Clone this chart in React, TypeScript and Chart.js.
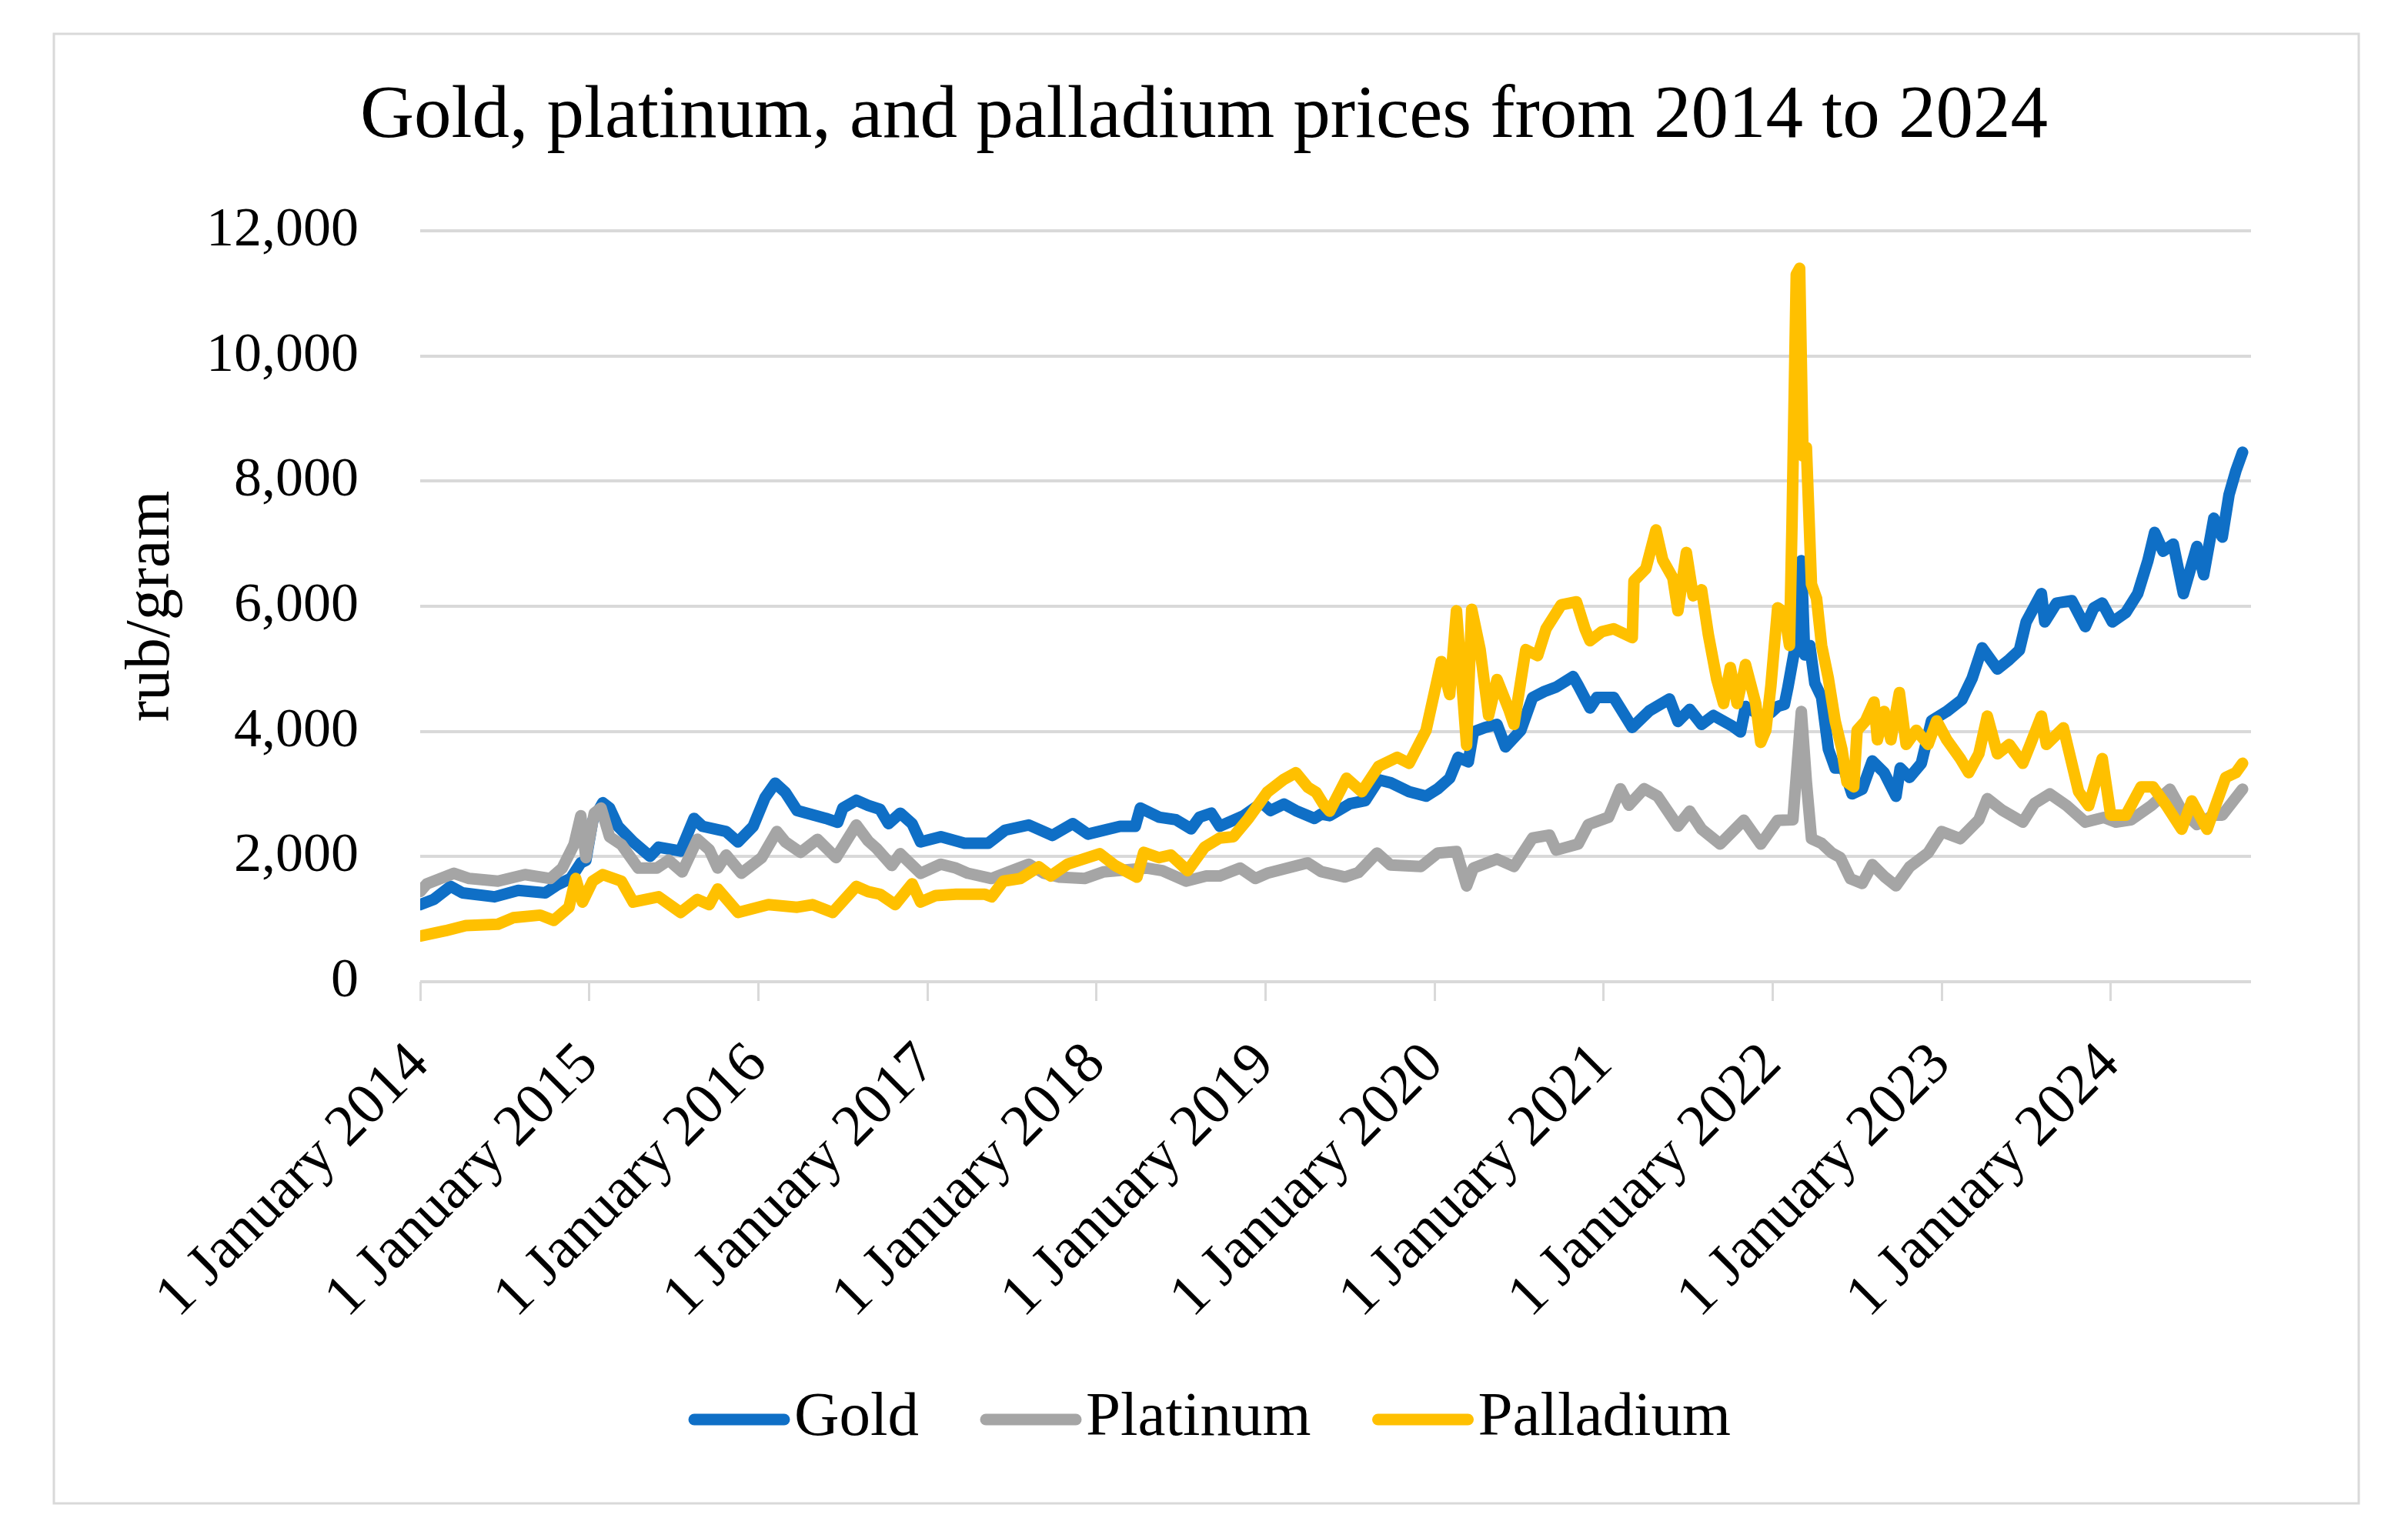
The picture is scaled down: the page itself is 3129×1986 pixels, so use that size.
import React, { useEffect, useRef } from 'react';
import { Chart, registerables } from 'chart.js';

Chart.register(...registerables);

const FONT = '"Liberation Serif", "Times New Roman", serif';
const GOLD_COLOR = '#0F6FC6';
const PLAT_COLOR = '#A5A5A5';
const PALL_COLOR = '#FFC000';

const titleText = 'Gold, platinum, and palladium prices from 2014 to 2024';
const yAxisTitle = 'rub/gram';
const seriesNames = ['Gold', 'Platinum', 'Palladium'];

const xTickValues = [2014, 2015, 2016, 2017, 2018, 2019, 2020, 2021, 2022, 2023, 2024];
const xTickLabels = [
  '1 January 2014', '1 January 2015', '1 January 2016', '1 January 2017',
  '1 January 2018', '1 January 2019', '1 January 2020', '1 January 2021',
  '1 January 2022', '1 January 2023', '1 January 2024',
];
const yTickValues = [0, 2000, 4000, 6000, 8000, 10000, 12000];
const yTickLabels = ['0', '2,000', '4,000', '6,000', '8,000', '10,000', '12,000'];

// time in decimal years
const goldT = [
  2014.00, 2014.08, 2014.18, 2014.25, 2014.44, 2014.58, 2014.74, 2014.81, 2014.89, 2014.95,
  2014.98, 2015.02, 2015.08, 2015.12, 2015.17, 2015.26, 2015.36, 2015.41, 2015.54, 2015.62,
  2015.67, 2015.81, 2015.88, 2015.97, 2016.04, 2016.10, 2016.16, 2016.23, 2016.40, 2016.47,
  2016.50, 2016.58, 2016.65, 2016.72, 2016.77, 2016.84, 2016.91, 2016.96, 2017.08, 2017.22,
  2017.36, 2017.46, 2017.60, 2017.74, 2017.86, 2017.95, 2018.14, 2018.23, 2018.26, 2018.37,
  2018.47, 2018.56, 2018.61, 2018.68, 2018.73, 2018.87, 2018.98, 2019.03, 2019.11, 2019.18,
  2019.29, 2019.33, 2019.38, 2019.50, 2019.59, 2019.67, 2019.74, 2019.85, 2019.95, 2020.02,
  2020.09, 2020.14, 2020.20, 2020.23, 2020.30, 2020.37, 2020.42, 2020.51, 2020.58, 2020.65,
  2020.72, 2020.82, 2020.85, 2020.92, 2020.96, 2021.06, 2021.17, 2021.27, 2021.39, 2021.44,
  2021.51, 2021.58, 2021.65, 2021.76, 2021.81, 2021.84, 2021.93, 2021.99, 2022.03, 2022.07,
  2022.09, 2022.13, 2022.16, 2022.17, 2022.19, 2022.22, 2022.25, 2022.29, 2022.33, 2022.37,
  2022.42, 2022.47, 2022.53, 2022.59, 2022.66, 2022.73, 2022.755, 2022.81, 2022.88, 2022.94,
  2023.03, 2023.12, 2023.18, 2023.24, 2023.33, 2023.40, 2023.46, 2023.50, 2023.59, 2023.61,
  2023.68, 2023.77, 2023.85, 2023.90, 2023.95, 2024.01, 2024.09, 2024.16, 2024.22, 2024.26,
  2024.31, 2024.37, 2024.43, 2024.47, 2024.51, 2024.55, 2024.61, 2024.66, 2024.70, 2024.74,
  2024.78,
];
const goldV = [
  1232, 1315, 1524, 1420, 1357, 1460, 1420, 1545, 1650, 1900,
  1940, 2568, 2860, 2776, 2484, 2234, 2004, 2150, 2088, 2610,
  2484, 2400, 2234, 2484, 2944, 3173, 3027, 2735, 2610, 2547,
  2776, 2900, 2818, 2756, 2526, 2693, 2526, 2234, 2318, 2213,
  2213, 2422, 2505, 2338, 2526, 2359, 2484, 2484, 2776, 2630,
  2589, 2443, 2630, 2693, 2484, 2651, 2860, 2735, 2839, 2735,
  2610, 2678, 2654, 2845, 2893, 3228, 3180, 3036, 2965, 3084,
  3252, 3586, 3514, 3992, 4064, 4112, 3753, 4016, 4542, 4638,
  4709, 4877, 4733, 4375, 4542, 4542, 4064, 4327, 4518, 4160,
  4351, 4112, 4255, 4088, 3992, 4399, 4255, 4300, 4400, 4432,
  4696, 5298, 6428, 6729, 5223, 5374, 4771, 4545, 3717, 3416,
  3416, 3002, 3077, 3529, 3341, 2964, 3416, 3265, 3491, 4169,
  4319, 4508, 4846, 5336, 4997, 5148, 5298, 5750, 6202, 5750,
  6051, 6089, 5675, 5976, 6051, 5750, 5901, 6202, 6729, 7181,
  6880, 6993, 6202, 6578, 6955, 6503, 7407, 7106, 7783, 8160,
  8461,
];

const platT = [
  2014.00, 2014.04, 2014.20, 2014.29, 2014.46, 2014.62, 2014.77, 2014.84, 2014.91, 2014.95,
  2014.98, 2015.03, 2015.07, 2015.12, 2015.19, 2015.29, 2015.40, 2015.47, 2015.55, 2015.64,
  2015.71, 2015.76, 2015.81, 2015.90, 2016.02, 2016.11, 2016.16, 2016.25, 2016.35, 2016.46,
  2016.58, 2016.65, 2016.70, 2016.79, 2016.84, 2016.96, 2017.08, 2017.17, 2017.24, 2017.38,
  2017.48, 2017.60, 2017.69, 2017.78, 2017.93, 2018.04, 2018.21, 2018.30, 2018.39, 2018.53,
  2018.65, 2018.73, 2018.85, 2018.94, 2019.01, 2019.13, 2019.25, 2019.33, 2019.47, 2019.55,
  2019.66, 2019.74, 2019.92, 2020.02, 2020.13, 2020.19, 2020.23, 2020.37, 2020.47, 2020.58,
  2020.68, 2020.72, 2020.85, 2020.91, 2021.03, 2021.10, 2021.15, 2021.24, 2021.32, 2021.44,
  2021.51, 2021.58, 2021.69, 2021.83, 2021.93, 2022.03, 2022.12, 2022.17, 2022.20, 2022.23,
  2022.29, 2022.35, 2022.40, 2022.46, 2022.53, 2022.59, 2022.66, 2022.73, 2022.81, 2022.92,
  2023.00, 2023.11, 2023.22, 2023.27, 2023.36, 2023.48, 2023.55, 2023.64, 2023.74, 2023.85,
  2023.96, 2024.03, 2024.12, 2024.24, 2024.35, 2024.42, 2024.51, 2024.61, 2024.66, 2024.78,
];
const platV = [
  1440, 1566, 1733, 1650, 1608, 1712, 1650, 1816, 2192, 2651,
  1983, 2693, 2776, 2318, 2192, 1816, 1816, 1942, 1754, 2276,
  2109, 1816, 2025, 1733, 1983, 2400, 2234, 2067, 2276, 1983,
  2505, 2250, 2130, 1858, 2046, 1733, 1879, 1816, 1733, 1650,
  1754, 1879, 1733, 1671, 1650, 1754, 1796, 1816, 1775, 1608,
  1691, 1691, 1816, 1650, 1733, 1816, 1900, 1760, 1674, 1746,
  2057, 1865, 1841, 2057, 2080, 1531, 1817, 1961, 1841, 2296,
  2343, 2104, 2200, 2511, 2630, 3084, 2821, 3084, 2965, 2487,
  2726, 2439, 2200, 2582, 2200, 2580, 2587, 4319, 3190, 2286,
  2211, 2060, 1985, 1646, 1571, 1872, 1684, 1533, 1834, 2060,
  2399, 2286, 2587, 2926, 2738, 2550, 2851, 3002, 2813, 2550,
  2625, 2550, 2587, 2813, 3077, 2738, 2512, 2663, 2663, 3077,
];

const pallT = [
  2014.00, 2014.15, 2014.27, 2014.46, 2014.55, 2014.71, 2014.79, 2014.88, 2014.92, 2014.96,
  2015.02, 2015.08, 2015.19, 2015.26, 2015.41, 2015.54, 2015.64, 2015.71, 2015.76, 2015.88,
  2016.06, 2016.23, 2016.32, 2016.44, 2016.58, 2016.65, 2016.72, 2016.81, 2016.91, 2016.96,
  2017.05, 2017.17, 2017.34, 2017.38, 2017.45, 2017.55, 2017.66, 2017.73, 2017.83, 2018.02,
  2018.11, 2018.24, 2018.28, 2018.37, 2018.44, 2018.54, 2018.64, 2018.73, 2018.81, 2018.90,
  2019.01, 2019.11, 2019.18, 2019.25, 2019.30, 2019.34, 2019.38, 2019.48, 2019.57, 2019.67,
  2019.78, 2019.85, 2019.95, 2020.04, 2020.09, 2020.13, 2020.19, 2020.22, 2020.27, 2020.32,
  2020.37, 2020.44, 2020.47, 2020.54, 2020.61, 2020.66, 2020.75, 2020.84, 2020.89, 2020.92,
  2020.99, 2021.06, 2021.17, 2021.18, 2021.25, 2021.31, 2021.35, 2021.41, 2021.44, 2021.49,
  2021.53, 2021.58, 2021.62, 2021.67, 2021.71, 2021.75, 2021.79, 2021.84, 2021.90, 2021.93,
  2021.96, 2021.99, 2022.03, 2022.07, 2022.10, 2022.115, 2022.14, 2022.16, 2022.18, 2022.20,
  2022.23, 2022.26, 2022.29, 2022.33, 2022.37, 2022.41, 2022.44, 2022.48, 2022.50, 2022.55,
  2022.60, 2022.62, 2022.66, 2022.70, 2022.75, 2022.79, 2022.85, 2022.92, 2022.97, 2023.03,
  2023.11, 2023.16, 2023.22, 2023.27, 2023.33, 2023.40, 2023.48, 2023.53, 2023.59, 2023.62,
  2023.72, 2023.75, 2023.81, 2023.87, 2023.95, 2024.00, 2024.09, 2024.18, 2024.25, 2024.33,
  2024.42, 2024.48, 2024.57, 2024.62, 2024.68, 2024.74, 2024.78,
];
const pallV = [
  731, 815, 898, 919, 1023, 1065, 981, 1190, 1650, 1273,
  1608, 1712, 1608, 1273, 1357, 1107, 1315, 1232, 1482, 1107,
  1232, 1190, 1232, 1107, 1524, 1440, 1399, 1232, 1566, 1273,
  1378, 1399, 1399, 1357, 1608, 1650, 1837, 1691, 1879, 2046,
  1858, 1671, 2067, 1983, 2025, 1775, 2150, 2297, 2318, 2610,
  3027, 3236, 3340, 3110, 3027, 2850, 2726, 3252, 3036, 3443,
  3586, 3490, 4016, 5116, 4590, 5928, 3777, 5952, 5307, 4255,
  4829, 4351, 4112, 5307, 5211, 5641, 6024, 6072, 5641, 5450,
  5594, 5641, 5498, 6406, 6598, 7219, 6741, 6454, 5928, 6860,
  6167, 6263, 5546, 4829, 4446, 5020, 4446, 5068, 4446, 3825,
  4018, 4733, 5976, 5901, 5374, 7331, 11300, 11400, 8400, 8536,
  6353, 6127, 5374, 4846, 4169, 3717, 3190, 3115, 4018, 4169,
  4470, 3868, 4319, 3868, 4620, 3792, 4018, 3792, 4169, 3868,
  3566, 3341, 3642, 4244, 3642, 3792, 3491, 3830, 4244, 3792,
  4056, 3717, 3039, 2813, 3566, 2663, 2663, 3115, 3115, 2813,
  2437, 2888, 2437, 2813, 3265, 3341, 3491,
];

const toPoints = (ts: number[], vs: number[]) => ts.map((t, i) => ({ x: t, y: vs[i] }));

const framePlugin = {
  id: 'frame',
  beforeDraw(chart: any) {
    const { ctx, width, height } = chart;
    ctx.save();
    ctx.fillStyle = '#ffffff';
    ctx.fillRect(0, 0, width, height);
    ctx.strokeStyle = '#d9d9d9';
    ctx.lineWidth = 3;
    ctx.strokeRect(70, 44, 2995, 1910);
    ctx.restore();
  },
};

const legendPlugin = {
  id: 'lineLegend',
  afterDraw(chart: any) {
    const { ctx } = chart;
    const lineW = 131;
    const gap = 6;
    const spacing = 80;
    const centerX = 1572;
    const lineY = 1845;
    const baseY = 1865;
    ctx.save();
    ctx.font = `81px ${FONT}`;
    ctx.textBaseline = 'alphabetic';
    ctx.textAlign = 'left';
    const items = chart.data.datasets.map((ds: any) => ({ label: ds.label, color: ds.borderColor }));
    const widths = items.map((it: any) => ctx.measureText(it.label).width);
    let total = 0;
    items.forEach((_: any, i: number) => { total += lineW + gap + widths[i]; });
    total += spacing * (items.length - 1);
    let x = centerX - total / 2;
    items.forEach((it: any, i: number) => {
      ctx.strokeStyle = it.color;
      ctx.lineWidth = 15;
      ctx.lineCap = 'round';
      ctx.beginPath();
      ctx.moveTo(x + 7, lineY);
      ctx.lineTo(x + lineW - 7, lineY);
      ctx.stroke();
      ctx.fillStyle = '#000000';
      ctx.fillText(it.label, x + lineW + gap, baseY);
      x += lineW + gap + widths[i] + spacing;
    });
    ctx.restore();
  },
};

export default function App() {
  const canvasRef = useRef<HTMLCanvasElement | null>(null);

  useEffect(() => {
    if (!canvasRef.current) return;
    const lineCommon = {
      borderWidth: 15,
      pointRadius: 0,
      pointHoverRadius: 0,
      tension: 0,
      fill: false,
      borderJoinStyle: 'round' as const,
      borderCapStyle: 'round' as const,
    };
    const chart = new Chart(canvasRef.current, {
      type: 'line',
      data: {
        datasets: [
          { ...lineCommon, label: seriesNames[0], data: toPoints(goldT, goldV), borderColor: GOLD_COLOR, backgroundColor: GOLD_COLOR, order: 3 },
          { ...lineCommon, label: seriesNames[1], data: toPoints(platT, platV), borderColor: PLAT_COLOR, backgroundColor: PLAT_COLOR, order: 2 },
          { ...lineCommon, label: seriesNames[2], data: toPoints(pallT, pallV), borderColor: PALL_COLOR, backgroundColor: PALL_COLOR, order: 1 },
        ],
      },
      options: {
        responsive: false,
        animation: false,
        devicePixelRatio: 1,
        layout: { padding: { left: 204, top: 0, right: 204, bottom: 150 } },
        plugins: {
          legend: { display: false },
          tooltip: { enabled: false },
          title: {
            display: true,
            text: titleText,
            color: '#000000',
            font: { family: FONT, size: 97, weight: 'normal', lineHeight: 1.2 },
            padding: { top: 94, bottom: 89.6 },
          },
        },
        scales: {
          x: {
            type: 'linear',
            min: 2014,
            max: 2024.83,
            afterBuildTicks: (scale: any) => {
              scale.ticks = xTickValues.map((v) => ({ value: v }));
            },
            afterFit: (scale: any) => { scale.height = 560; },
            ticks: {
              autoSkip: false,
              minRotation: 45,
              maxRotation: 45,
              padding: 38,
              color: '#000000',
              font: { family: FONT, size: 76 },
              callback: (v: any) => {
                const i = xTickValues.indexOf(Number(v));
                return i >= 0 ? xTickLabels[i] : '';
              },
            },
            grid: { drawOnChartArea: false, drawTicks: true, tickLength: 25, color: '#d9d9d9', lineWidth: 3 },
            border: { display: false },
          },
          y: {
            min: 0,
            max: 12000,
            afterFit: (scale: any) => { scale.width = 342; },
            ticks: {
              stepSize: 2000,
              padding: 80,
              color: '#000000',
              font: { family: FONT, size: 72 },
              callback: (v: any) => {
                const i = yTickValues.indexOf(Number(v));
                return i >= 0 ? yTickLabels[i] : '';
              },
            },
            grid: { color: '#d9d9d9', lineWidth: 4, drawTicks: false },
            border: { display: false },
            title: {
              display: true,
              text: yAxisTitle,
              color: '#000000',
              font: { family: FONT, size: 82, lineHeight: 1.2 },
              padding: { top: -56, bottom: 0 },
            },
          },
        },
      },
      plugins: [framePlugin, legendPlugin],
    });
    return () => chart.destroy();
  }, []);

  return (
    <div style={{ position: 'absolute', left: 0, top: 0, width: 3129, height: 1986, background: '#ffffff' }}>
      <canvas ref={canvasRef} width={3129} height={1986} style={{ display: 'block', width: 3129, height: 1986 }} />
    </div>
  );
}
